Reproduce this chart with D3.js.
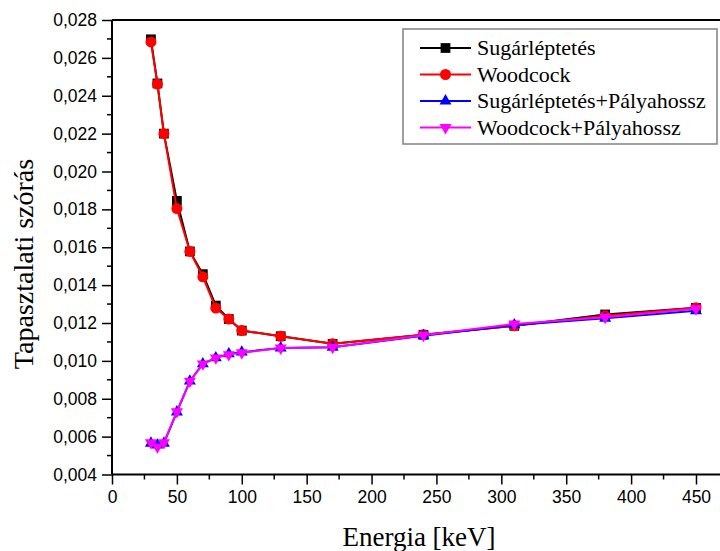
<!DOCTYPE html>
<html>
<head>
<meta charset="utf-8">
<script src="https://cdn.jsdelivr.net/npm/d3@7"></script>
<style>
  body { margin: 0; background: #fff; }
  svg { display: block; }
</style>
</head>
<body>
<svg width="720" height="551"></svg>
<script>
'use strict';

// energies (keV)
var energy = [30, 35, 40, 50, 60, 70, 80, 90, 100, 130, 170, 240, 310, 380, 450];

// empirical standard deviation per method
var sugar = [0.02698, 0.02465, 0.02200, 0.01845, 0.01578, 0.01458, 0.01292, 0.01221, 0.01160, 0.01130, 0.01090, 0.01138, 0.01185, 0.01245, 0.01280];
var wood = [0.02684, 0.02462, 0.02200, 0.01804, 0.01578, 0.01444, 0.01279, 0.01221, 0.01160, 0.01130, 0.01090, 0.01138, 0.01185, 0.01238, 0.01280];
var sugarPath = [0.00565, 0.00555, 0.00565, 0.00730, 0.00893, 0.00984, 0.01016, 0.01037, 0.01046, 0.01068, 0.01072, 0.01133, 0.01190, 0.01225, 0.01265];
var woodPath = [0.00568, 0.00546, 0.00568, 0.00732, 0.00893, 0.00984, 0.01016, 0.01033, 0.01043, 0.01068, 0.01072, 0.01135, 0.01195, 0.01230, 0.01275];

var seriesNames = ['Sugárléptetés', 'Woodcock', 'Sugárléptetés+Pályahossz', 'Woodcock+Pályahossz'];
var xTicks = [0, 50, 100, 150, 200, 250, 300, 350, 400, 450];
var yTicks = [0.004, 0.006, 0.008, 0.010, 0.012, 0.014, 0.016, 0.018, 0.020, 0.022, 0.024, 0.026, 0.028];

var series = [
  { name: seriesNames[0], values: sugar, color: '#000000', symbol: d3.symbolSquare, size: 95, rot: 0 },
  { name: seriesNames[1], values: wood, color: '#ff0000', symbol: d3.symbolCircle, size: 95, rot: 0 },
  { name: seriesNames[2], values: sugarPath, color: '#0000ff', symbol: d3.symbolTriangle, size: 62, rot: 0 },
  { name: seriesNames[3], values: woodPath, color: '#ff00ff', symbol: d3.symbolTriangle, size: 62, rot: 180 }
];

var svg = d3.select('svg');

var x = d3.scaleLinear().domain([0, 468.5]).range([112, 720]);
var y = d3.scaleLinear().domain([0.004, 0.028]).range([474.5, 20]);

var sans = "'Liberation Sans', Arial, sans-serif";
var serif = "'Liberation Serif', 'Times New Roman', serif";
var fmt = function (d) { return d3.format('.3f')(d).replace('.', ','); };

// top frame line
svg.append('line')
  .attr('x1', x(0)).attr('x2', 720)
  .attr('y1', y(0.028)).attr('y2', y(0.028))
  .attr('stroke', '#000').attr('stroke-width', 2);

// minor ticks
var xMinor = d3.range(25, 468, 50);
var yMinor = d3.range(0.005, 0.028, 0.002);

svg.append('g').selectAll('line').data(xMinor).enter().append('line')
  .attr('x1', function (d) { return x(d); }).attr('x2', function (d) { return x(d); })
  .attr('y1', y(0.004)).attr('y2', y(0.004) + 5)
  .attr('stroke', '#000').attr('stroke-width', 1.5);

svg.append('g').selectAll('line').data(yMinor).enter().append('line')
  .attr('y1', function (d) { return y(d); }).attr('y2', function (d) { return y(d); })
  .attr('x1', x(0)).attr('x2', x(0) - 5)
  .attr('stroke', '#000').attr('stroke-width', 1.5);

// axes
var xAxis = svg.append('g')
  .attr('transform', 'translate(0,' + y(0.004) + ')')
  .call(d3.axisBottom(x).tickValues(xTicks).tickSize(10).tickPadding(6).tickSizeOuter(0));
var yAxis = svg.append('g')
  .attr('transform', 'translate(' + x(0) + ',0)')
  .call(d3.axisLeft(y).tickValues(yTicks).tickFormat(fmt).tickSize(10).tickPadding(5).tickSizeOuter(0));

[xAxis, yAxis].forEach(function (g) {
  g.select('.domain').attr('stroke-width', 2);
  g.selectAll('.tick line').attr('stroke-width', 1.5);
  g.selectAll('.tick text')
    .style('font-family', sans).style('font-size', '17.5px').attr('fill', '#000');
});
xAxis.select('.domain').attr('d', 'M' + x(0) + ',0H720');
yAxis.select('.domain').attr('d', 'M0,' + y(0.004) + 'V' + y(0.028));

// series
series.forEach(function (s) {
  var pts = energy.map(function (e, i) { return [e, s.values[i]]; });
  var g = svg.append('g');
  g.append('path')
    .datum(pts)
    .attr('fill', 'none')
    .attr('stroke', s.color)
    .attr('stroke-width', 2)
    .attr('d', d3.line().x(function (d) { return x(d[0]); }).y(function (d) { return y(d[1]); }));
  g.selectAll('path.pt').data(pts).enter().append('path')
    .attr('class', 'pt')
    .attr('d', d3.symbol().type(s.symbol).size(s.size))
    .attr('fill', s.color)
    .attr('transform', function (d) {
      return 'translate(' + x(d[0]) + ',' + y(d[1]) + ') rotate(' + s.rot + ')';
    });
});

// legend
var legend = svg.append('g');
legend.append('rect')
  .attr('x', 403).attr('y', 29).attr('width', 314).attr('height', 115)
  .attr('fill', '#fff').attr('stroke', '#808080').attr('stroke-width', 1.5);

var rowY = [48, 74.5, 101, 127.5];
series.forEach(function (s, i) {
  var r = legend.append('g').attr('transform', 'translate(0,' + rowY[i] + ')');
  r.append('line').attr('x1', 420).attr('x2', 471).attr('y1', 0).attr('y2', 0)
    .attr('stroke', s.color).attr('stroke-width', 2);
  r.append('path')
    .attr('d', d3.symbol().type(s.symbol).size(s.size))
    .attr('fill', s.color)
    .attr('transform', 'translate(445.5,0) rotate(' + s.rot + ')');
  r.append('text')
    .attr('x', 477).attr('y', 7)
    .style('font-family', serif).style('font-size', '22px')
    .text(s.name);
});

// axis titles
svg.append('text')
  .attr('x', 419).attr('y', 546)
  .attr('text-anchor', 'middle')
  .style('font-family', serif).style('font-size', '27px')
  .text('Energia [keV]');

svg.append('text')
  .attr('transform', 'translate(33,264) rotate(-90)')
  .attr('text-anchor', 'middle')
  .style('font-family', serif).style('font-size', '28px')
  .text('Tapasztalati szórás');
</script>
</body>
</html>
